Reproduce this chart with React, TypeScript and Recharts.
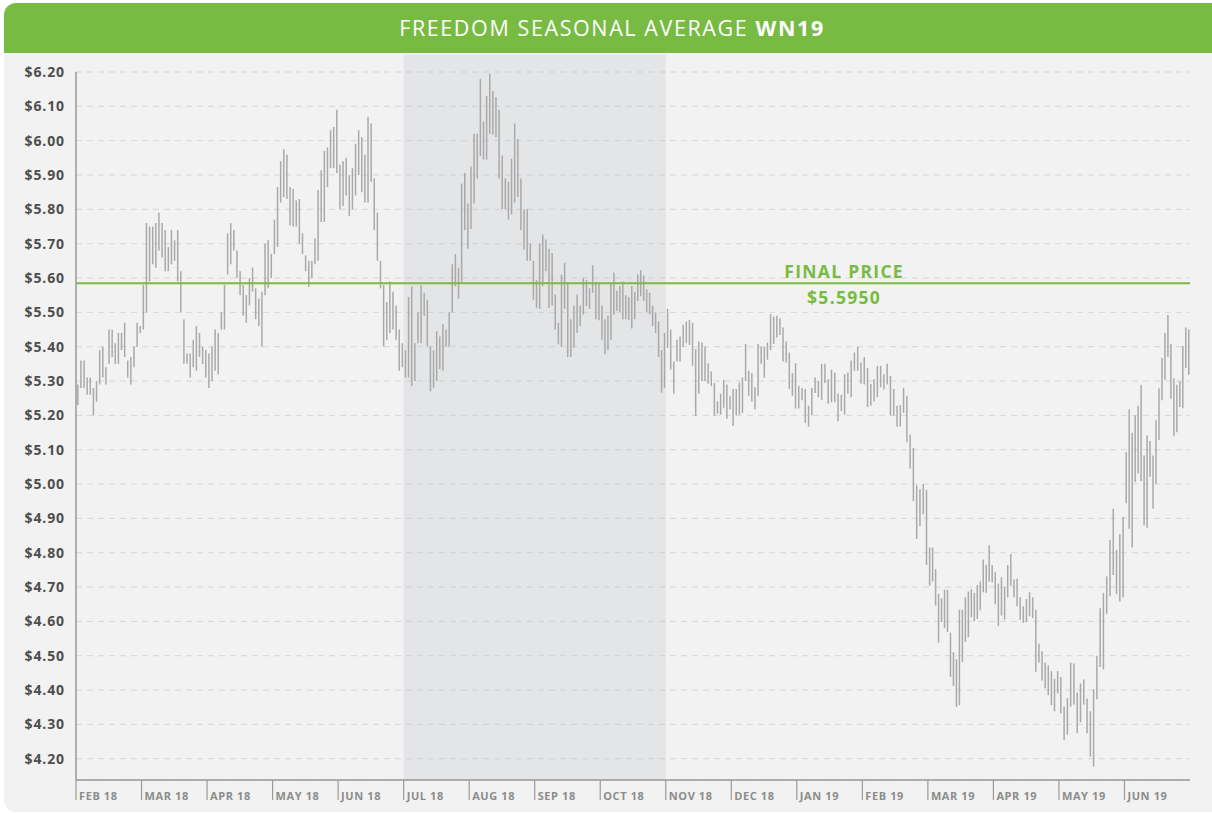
import React from 'react';
import {
  ComposedChart,
  Bar,
  XAxis,
  YAxis,
  CartesianGrid,
  ReferenceArea,
  ReferenceLine,
} from 'recharts';

const MONTHS = [
  'FEB 18', 'MAR 18', 'APR 18', 'MAY 18', 'JUN 18', 'JUL 18', 'AUG 18', 'SEP 18', 'OCT 18',
  'NOV 18', 'DEC 18', 'JAN 19', 'FEB 19', 'MAR 19', 'APR 19', 'MAY 19', 'JUN 19',
];

// daily [high, low] per month
const FEB18 = [
  [5.29, 5.23], [5.36, 5.28], [5.36, 5.28], [5.31, 5.26], [5.31, 5.26], [5.28, 5.2], [5.3, 5.24],
  [5.39, 5.29], [5.4, 5.31], [5.34, 5.29], [5.45, 5.35], [5.45, 5.37], [5.41, 5.35], [5.44, 5.35],
  [5.44, 5.39], [5.47, 5.37], [5.36, 5.31], [5.37, 5.29], [5.4, 5.34], [5.47, 5.4], [5.46, 5.44],
];
const MAR18 = [
  [5.58, 5.45], [5.76, 5.5], [5.75, 5.59], [5.75, 5.64], [5.76, 5.63], [5.79, 5.68], [5.76, 5.66],
  [5.74, 5.62], [5.69, 5.62], [5.74, 5.64], [5.71, 5.65], [5.74, 5.59], [5.62, 5.5], [5.48, 5.35],
  [5.38, 5.35], [5.38, 5.31], [5.42, 5.34], [5.46, 5.33], [5.44, 5.37], [5.4, 5.35], [5.39, 5.31],
];
const APR18 = [
  [5.38, 5.28], [5.4, 5.3], [5.45, 5.33], [5.44, 5.32], [5.5, 5.45], [5.58, 5.45], [5.73, 5.61],
  [5.76, 5.64], [5.74, 5.68], [5.68, 5.6], [5.62, 5.55], [5.58, 5.49], [5.55, 5.47], [5.6, 5.52],
  [5.63, 5.56], [5.57, 5.48], [5.54, 5.46], [5.56, 5.4], [5.7, 5.55], [5.71, 5.57], [5.67, 5.6],
];
const MAY18 = [
  [5.77, 5.67], [5.865, 5.69], [5.94, 5.82], [5.975, 5.836], [5.96, 5.83], [5.865, 5.753], [5.86, 5.75],
  [5.826, 5.75], [5.83, 5.7], [5.73, 5.67], [5.666, 5.62], [5.65, 5.574], [5.65, 5.6], [5.716, 5.64],
  [5.856, 5.65], [5.914, 5.763], [5.97, 5.763], [5.98, 5.865], [6.03, 5.92], [6.04, 5.92], [6.09, 5.906],
];
const JUN18 = [
  [5.93, 5.8], [5.94, 5.81], [5.95, 5.84], [5.9, 5.78], [5.92, 5.8], [5.99, 5.84], [6.03, 5.9],
  [6.01, 5.85], [5.96, 5.82], [6.07, 5.82], [6.05, 5.88], [5.89, 5.74], [5.79, 5.65], [5.65, 5.57],
  [5.58, 5.4], [5.53, 5.42], [5.59, 5.44], [5.56, 5.45], [5.52, 5.42], [5.45, 5.33], [5.41, 5.34],
];
const JUL18 = [
  [5.39, 5.31], [5.545, 5.31], [5.575, 5.285], [5.41, 5.3], [5.5, 5.41], [5.58, 5.41], [5.557, 5.49],
  [5.537, 5.4], [5.4, 5.27], [5.39, 5.28], [5.445, 5.3], [5.43, 5.335], [5.465, 5.33], [5.45, 5.4],
  [5.5, 5.4], [5.64, 5.5], [5.67, 5.576], [5.63, 5.54], [5.875, 5.586], [5.906, 5.74], [5.817, 5.685],
];
const AUG18 = [
  [5.925, 5.743], [6.02, 5.817], [6.02, 5.89], [6.18, 5.955], [6.056, 5.945], [6.13, 5.945], [6.195, 6.02],
  [6.144, 6.017], [6.127, 6.01], [6.09, 5.89], [5.957, 5.8], [5.89, 5.8], [5.88, 5.77], [5.947, 5.785],
  [6.05, 5.82], [6.005, 5.836], [5.89, 5.74], [5.8, 5.683], [5.8, 5.65], [5.7, 5.65], [5.65, 5.537],
];
const SEP18 = [
  [5.594, 5.513], [5.7, 5.51], [5.727, 5.576], [5.712, 5.62], [5.685, 5.513], [5.673, 5.52], [5.552, 5.45],
  [5.47, 5.407], [5.61, 5.4], [5.644, 5.51], [5.588, 5.37], [5.48, 5.37], [5.52, 5.397], [5.552, 5.44],
  [5.52, 5.46], [5.6, 5.494], [5.594, 5.518], [5.57, 5.51], [5.637, 5.557], [5.588, 5.48], [5.585, 5.477],
];
const OCT18 = [
  [5.52, 5.42], [5.48, 5.378], [5.49, 5.39], [5.585, 5.42], [5.616, 5.494], [5.563, 5.504], [5.577, 5.5],
  [5.59, 5.48], [5.55, 5.48], [5.545, 5.477], [5.577, 5.453], [5.56, 5.48], [5.61, 5.533], [5.623, 5.547],
  [5.607, 5.533], [5.567, 5.5], [5.557, 5.494], [5.52, 5.46], [5.5, 5.44], [5.474, 5.37], [5.39, 5.266],
  [5.44, 5.28],
];
const NOV18 = [
  [5.51, 5.396], [5.45, 5.333], [5.357, 5.263], [5.42, 5.357], [5.43, 5.357], [5.463, 5.4], [5.473, 5.41],
  [5.478, 5.405], [5.47, 5.344], [5.393, 5.198], [5.415, 5.263], [5.412, 5.3], [5.4, 5.3], [5.352, 5.292],
  [5.328, 5.285], [5.294, 5.198], [5.241, 5.205], [5.263, 5.202], [5.304, 5.222], [5.29, 5.19], [5.256, 5.218],
];
const DEC18 = [
  [5.277, 5.169], [5.277, 5.2], [5.296, 5.202], [5.31, 5.207], [5.408, 5.3], [5.33, 5.257], [5.323, 5.24],
  [5.282, 5.218], [5.408, 5.257], [5.4, 5.35], [5.4, 5.31], [5.412, 5.362], [5.495, 5.39], [5.488, 5.408],
  [5.49, 5.427], [5.483, 5.434], [5.456, 5.357], [5.415, 5.354], [5.383, 5.277], [5.323, 5.257], [5.352, 5.22],
];
const JAN19 = [
  [5.286, 5.22], [5.28, 5.244], [5.277, 5.178], [5.228, 5.167], [5.28, 5.2], [5.31, 5.265], [5.3, 5.253],
  [5.35, 5.244], [5.35, 5.294], [5.305, 5.234], [5.333, 5.238], [5.325, 5.238], [5.263, 5.183], [5.26, 5.212],
  [5.32, 5.202], [5.325, 5.263], [5.36, 5.253], [5.383, 5.33], [5.4, 5.33], [5.354, 5.292],
];
const FEB19 = [
  [5.37, 5.29], [5.338, 5.224], [5.292, 5.228], [5.305, 5.24], [5.344, 5.253], [5.344, 5.282], [5.32, 5.275],
  [5.35, 5.29], [5.315, 5.2], [5.277, 5.2], [5.228, 5.167], [5.23, 5.167], [5.28, 5.207], [5.257, 5.122],
  [5.144, 5.045], [5.105, 4.95], [4.996, 4.84], [4.985, 4.878], [5.0, 4.912], [4.983, 4.764],
];
const MAR19 = [
  [4.815, 4.704], [4.815, 4.716], [4.752, 4.646], [4.68, 4.538], [4.667, 4.598], [4.692, 4.58], [4.692, 4.569],
  [4.567, 4.438], [4.51, 4.412], [4.49, 4.351], [4.634, 4.356], [4.634, 4.482], [4.67, 4.54], [4.687, 4.554],
  [4.694, 4.612], [4.683, 4.6], [4.706, 4.607], [4.716, 4.632], [4.78, 4.685], [4.764, 4.683], [4.822, 4.716],
  [4.764, 4.714],
];
const APR19 = [
  [4.743, 4.65], [4.71, 4.586], [4.728, 4.617], [4.7, 4.605], [4.764, 4.67], [4.796, 4.704], [4.722, 4.67],
  [4.725, 4.644], [4.67, 4.605], [4.644, 4.596], [4.665, 4.598], [4.685, 4.615], [4.67, 4.61], [4.634, 4.453],
  [4.535, 4.48], [4.513, 4.428], [4.48, 4.405], [4.472, 4.385], [4.455, 4.356], [4.433, 4.338], [4.455, 4.39],
];
const MAY19 = [
  [4.438, 4.332], [4.351, 4.254], [4.377, 4.27], [4.48, 4.351], [4.477, 4.358], [4.393, 4.274], [4.419, 4.306],
  [4.431, 4.358], [4.375, 4.274], [4.338, 4.206], [4.402, 4.177], [4.5, 4.373], [4.638, 4.467], [4.683, 4.46],
  [4.731, 4.622], [4.837, 4.673], [4.928, 4.735], [4.808, 4.68], [4.854, 4.658], [4.905, 4.67],
];
const JUN19 = [
  [5.093, 4.944], [5.217, 4.87], [5.149, 4.815], [5.2, 5.006], [5.228, 5.031], [5.289, 5.009], [5.083, 4.88],
  [5.141, 4.873], [5.125, 5.021], [5.083, 4.928], [5.186, 5.0], [5.279, 5.128], [5.367, 5.244], [5.44, 5.304],
  [5.492, 5.371], [5.408, 5.248], [5.308, 5.139], [5.289, 5.151], [5.299, 5.224], [5.402, 5.221], [5.456, 5.338],
  [5.45, 5.318],
];

const PRICE_TICKS = [
  4.2, 4.3, 4.4, 4.5, 4.6, 4.7, 4.8, 4.9, 5.0, 5.1, 5.2, 5.3, 5.4, 5.5, 5.6, 5.7, 5.8, 5.9, 6.0, 6.1, 6.2,
];
// the line sits a touch under the 5.60 grid in the picture
const FINAL_LINE = 5.585;
const FINAL_TEXT = '$5.5950';
// seasonal window: JUL 18 .. OCT 18
const SEASON_START = 5;
const SEASON_END = 9;

const BY_MONTH = [
  FEB18, MAR18, APR18, MAY18, JUN18, JUL18, AUG18, SEP18, OCT18,
  NOV18, DEC18, JAN19, FEB19, MAR19, APR19, MAY19, JUN19,
];

const data = BY_MONTH.flatMap((days, m) =>
  days.map(([hi, lo], i) => ({ x: m + (i + 0.5) / days.length, range: [lo, hi] }))
);

const FONT = '"Open Sans", "DejaVu Sans", sans-serif';
const GREEN = '#78bb43';

const MonthTick = (props: any) => {
  const { x, y, payload } = props;
  return (
    <g>
      <line x1={x} y1={y} x2={x} y2={y + 20} stroke="#9a9a9a" strokeWidth={1.2} />
      <text x={x + 3} y={y + 20} fontSize={11} fontWeight={700} letterSpacing={0.6} fill="#8c8c8c" fontFamily={FONT}>
        {MONTHS[payload.value]}
      </text>
    </g>
  );
};

const FinalLabel = (props: any) => {
  const { viewBox } = props;
  const cx = viewBox.x + viewBox.width * 0.6895;
  return (
    <g fontFamily={FONT} fontWeight={700} fill={GREEN} fontSize={17.5} textAnchor="middle">
      <text x={cx} y={viewBox.y - 5} letterSpacing={1.3}>FINAL PRICE</text>
      <text x={cx} y={viewBox.y + 21} letterSpacing={1.3}>{FINAL_TEXT}</text>
    </g>
  );
};

export default function App() {
  return (
    <div style={{ position: 'absolute', left: 0, top: 0, width: 1212, height: 814, overflow: 'hidden', background: '#fff' }}>
      <div style={{ position: 'absolute', left: 4, top: 3, width: 1220, height: 809, background: '#f1f2f1', borderRadius: 12 }} />
      <div
        style={{
          position: 'absolute', left: 4, top: 3, width: 1220, height: 50, background: GREEN,
          borderRadius: '12px 12px 0 0',
        }}
      />
      <div
        style={{
          position: 'absolute', left: 6, top: 14, width: 1212, textAlign: 'center', color: '#fff',
          fontFamily: FONT, fontSize: 21.5, letterSpacing: 1.6, lineHeight: '28px',
        }}
      >
        FREEDOM SEASONAL AVERAGE <b>WN19</b>
      </div>
      <div style={{ position: 'absolute', left: 0, top: 0 }}>
        <ComposedChart
          width={1212}
          height={814}
          data={data}
          margin={{ top: 72, right: 22, bottom: 4, left: 16 }}
        >
          <ReferenceArea
            x1={SEASON_START}
            x2={SEASON_END}
            y1={4.138}
            y2={6.25}
            fill="#c1c2cd"
            fillOpacity={0.26}
            stroke="none"
            ifOverflow="visible"
          />
          <CartesianGrid vertical={false} stroke="#d6d7d7" strokeDasharray="6 5" />
          <XAxis
            type="number"
            dataKey="x"
            domain={[0, 17]}
            ticks={[0, 1, 2, 3, 4, 5, 6, 7, 8, 9, 10, 11, 12, 13, 14, 15, 16]}
            interval={0}
            height={30}
            tickSize={0}
            tickMargin={0}
            tickLine={false}
            axisLine={{ stroke: '#999', strokeWidth: 1.5 }}
            tick={<MonthTick />}
          />
          <YAxis
            type="number"
            domain={[4.138, 6.2]}
            ticks={PRICE_TICKS}
            allowDataOverflow
            width={60}
            tickSize={0}
            tickMargin={11}
            tickLine={false}
            axisLine={{ stroke: '#999', strokeWidth: 1.5 }}
            tickFormatter={(v: number) => `$${v.toFixed(2)}`}
            tick={{ fontSize: 14, fontWeight: 700, fill: '#4e4e4e', fontFamily: FONT, letterSpacing: 0.9 }}
            interval={0}
          />
          <Bar dataKey="range" fill="#a9a9a9" barSize={1.5} isAnimationActive={false} />
          <ReferenceLine y={FINAL_LINE} stroke={GREEN} strokeWidth={2} label={<FinalLabel />} />
        </ComposedChart>
      </div>
    </div>
  );
}
